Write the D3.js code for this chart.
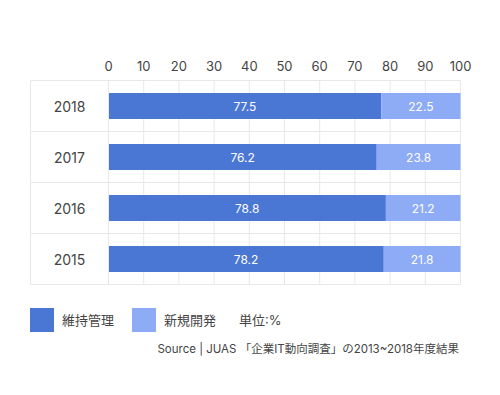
<!DOCTYPE html>
<html>
<head>
<meta charset="utf-8">
<script src="https://cdn.jsdelivr.net/npm/d3@7"></script>
<style>
  body { margin: 0; background: #fff; }
  svg { font-family: Inter, "Noto Sans CJK JP", sans-serif; }
</style>
</head>
<body>
<svg id="chart" width="500" height="395"></svg>
<script>
var years = ["2018", "2017", "2016", "2015"];
var maintain = [77.5, 76.2, 78.8, 78.2];
var develop = [22.5, 23.8, 21.2, 21.8];
var xTicks = [0, 10, 20, 30, 40, 50, 60, 70, 80, 90, 100];
var seriesNames = ["維持管理", "新規開発"];
var colors = ["#4a76d4", "#8eabf5"];

var svg = d3.select("#chart");
var gLeft = 30.5, labelRight = 108.5, gRight = 460.5, gTop = 80.5, gBottom = 284.5;

var x = d3.scaleLinear().domain([0, 100]).range([labelRight, gRight]);
var y = d3.scaleBand().domain(years).range([gTop, gBottom]);

var grid = svg.append("g").attr("stroke", "#e8e8e8").attr("stroke-width", 1);
// vertical grid lines
xTicks.forEach(function(t) {
  grid.append("line").attr("x1", x(t)).attr("x2", x(t)).attr("y1", gTop).attr("y2", gBottom);
});
grid.append("line").attr("x1", gLeft).attr("x2", gLeft).attr("y1", gTop).attr("y2", gBottom);
// horizontal row lines
years.concat([null]).forEach(function(yr) {
  var yy = yr ? y(yr) : gBottom;
  grid.append("line").attr("x1", gLeft).attr("x2", gRight).attr("y1", yy).attr("y2", yy);
});

// tick labels on top
svg.append("g").selectAll("text")
  .data(xTicks).enter().append("text")
  .attr("x", function(d) { return x(d); })
  .attr("y", 66)
  .attr("text-anchor", "middle")
  .attr("dominant-baseline", "central")
  .attr("font-size", 13)
  .attr("fill", "#444")
  .text(function(d) { return d; });

// year labels
svg.append("g").selectAll("text")
  .data(years).enter().append("text")
  .attr("x", (gLeft + labelRight) / 2)
  .attr("y", function(d) { return y(d) + y.bandwidth() / 2; })
  .attr("text-anchor", "middle")
  .attr("dominant-baseline", "central")
  .attr("font-size", 14)
  .attr("fill", "#444")
  .text(function(d) { return d; });

var barH = 26;
var rows = svg.append("g").selectAll("g")
  .data(years).enter().append("g")
  .attr("transform", function(d) { return "translate(0," + (y(d) + (y.bandwidth() - barH) / 2) + ")"; });

rows.append("rect")
  .attr("x", x(0) + 0.5)
  .attr("width", function(d, i) { return x(maintain[i]) - x(0) - 0.5; })
  .attr("height", barH)
  .attr("fill", colors[0]);
rows.append("rect")
  .attr("x", function(d, i) { return x(maintain[i]); })
  .attr("width", function(d, i) { return x(maintain[i] + develop[i]) - x(maintain[i]); })
  .attr("height", barH)
  .attr("fill", colors[1]);

rows.append("text")
  .attr("x", function(d, i) { return (x(0) + x(maintain[i])) / 2; })
  .attr("y", barH / 2)
  .attr("text-anchor", "middle")
  .attr("dominant-baseline", "central")
  .attr("font-size", 12)
  .attr("fill", "#fff")
  .text(function(d, i) { return maintain[i]; });
rows.append("text")
  .attr("x", function(d, i) { return (x(maintain[i]) + x(maintain[i] + develop[i])) / 2; })
  .attr("y", barH / 2)
  .attr("text-anchor", "middle")
  .attr("dominant-baseline", "central")
  .attr("font-size", 12)
  .attr("fill", "#fff")
  .text(function(d, i) { return develop[i]; });

// legend
var legX = [30, 132];
seriesNames.forEach(function(name, i) {
  svg.append("rect").attr("x", legX[i]).attr("y", 308).attr("width", 24).attr("height", 24).attr("fill", colors[i]);
  svg.append("text").attr("x", legX[i] + 32).attr("y", 320)
    .attr("dominant-baseline", "central").attr("font-size", 13).attr("fill", "#444").text(name);
});
svg.append("text").attr("x", 239).attr("y", 320)
  .attr("dominant-baseline", "central").attr("font-size", 13).attr("fill", "#444").text("単位:%");

svg.append("text").attr("x", 459).attr("y", 349)
  .attr("text-anchor", "end")
  .attr("dominant-baseline", "central").attr("font-size", 11.5).attr("fill", "#444")
  .text("Source | JUAS 「企業IT動向調査」の2013~2018年度結果");
</script>
</body>
</html>
